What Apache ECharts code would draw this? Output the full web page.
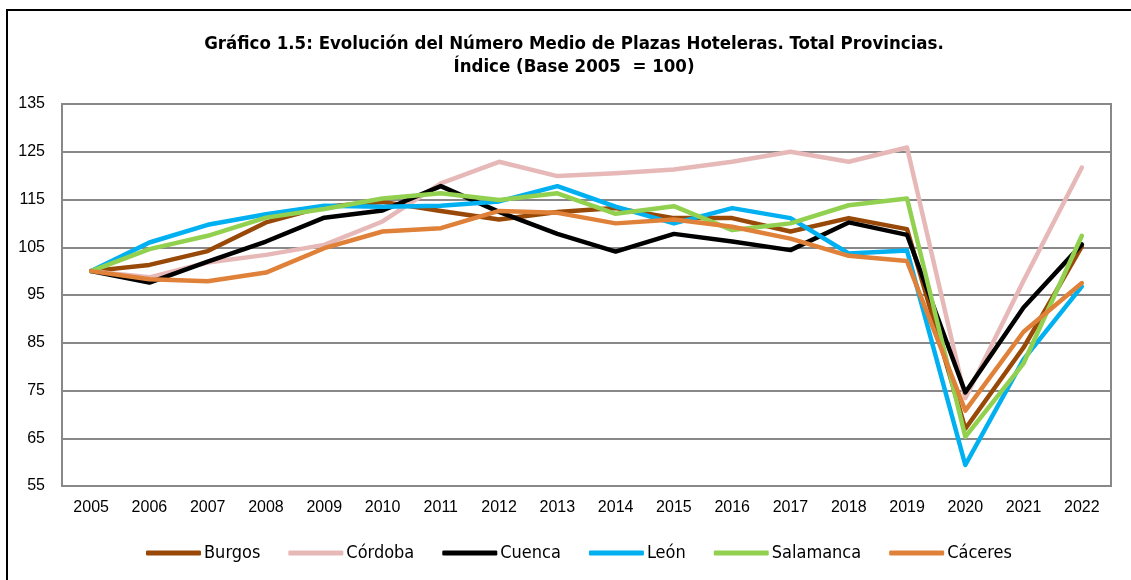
<!DOCTYPE html>
<html>
<head>
<meta charset="utf-8">
<script src="https://cdn.jsdelivr.net/npm/echarts@6/dist/echarts.min.js"></script>
<style>
  html, body { margin: 0; padding: 0; background: #fff; }
  #charts { width: 1131px; height: 580px; }
</style>
</head>
<body>
<div id="charts"></div>
<script>
// datos
var years = ['2005','2006','2007','2008','2009','2010','2011','2012','2013','2014','2015','2016','2017','2018','2019','2020','2021','2022'];
var burgos    = [100, 101.3, 104.2, 110.2, 113.5, 114.5, 112.6, 110.8, 112.4, 113.2, 111.1, 111.1, 108.3, 111.1, 108.8, 67.0, 84.0, 105.2];
var cordoba   = [100, 98.7, 101.8, 103.4, 105.5, 110.4, 118.4, 122.9, 119.9, 120.5, 121.3, 122.9, 125.0, 122.9, 125.9, 73.4, 98.0, 121.7];
var cuenca    = [100, 97.6, 102.0, 106.2, 111.2, 112.7, 117.8, 112.4, 107.8, 104.1, 107.8, 106.2, 104.4, 110.2, 107.6, 74.6, 92.4, 105.6];
var leon      = [100, 106.0, 109.7, 111.9, 113.7, 113.5, 113.7, 114.6, 117.8, 113.5, 110.0, 113.2, 111.1, 103.7, 104.3, 59.4, 81.5, 96.8];
var salamanca = [100, 104.6, 107.4, 111.2, 113.0, 115.2, 116.3, 114.9, 116.3, 112.0, 113.6, 108.6, 110.0, 113.8, 115.2, 65.3, 80.7, 107.4];
var caceres   = [100, 98.3, 97.9, 99.7, 104.8, 108.3, 109.0, 112.6, 112.2, 110.0, 110.8, 109.3, 106.8, 103.2, 102.1, 70.8, 87.3, 97.5];

var names  = ['Burgos', 'Córdoba', 'Cuenca', 'León', 'Salamanca', 'Cáceres'];
var values = [burgos, cordoba, cuenca, leon, salamanca, caceres];
var colors = ['#984807', '#E6B9B8', '#000000', '#00B0F0', '#92D050', '#E0813A'];

var chart = echarts.init(document.getElementById('charts'));

var series = [];
for (var i = 0; i < names.length; i++) {
    series.push({
        name: names[i],
        type: 'line',
        data: values[i],
        symbol: 'none',
        lineStyle: { width: 4.5, color: colors[i], cap: 'round', join: 'round' },
        itemStyle: { color: colors[i] },
        emphasis: { disabled: true }
    });
}

var labelFont = 'Liberation Sans, Arial, sans-serif';

var option = {
    animation: false,
    graphic: [{
        type: 'rect',
        shape: { x: 7, y: 10, width: 1200, height: 700 },
        style: { fill: 'none', stroke: '#000', lineWidth: 2 },
        silent: true
    }, {
        type: 'text',
        x: 574,
        y: 33,
        style: {
            text: 'Gráfico 1.5: Evolución del Número Medio de Plazas Hoteleras. Total Provincias.\nÍndice (Base 2005  = 100)',
            align: 'center',
            verticalAlign: 'top',
            font: 'bold 18.5px "DejaVu Sans Condensed"',
            lineHeight: 23,
            fill: '#000'
        },
        silent: true
    }],
    legend: {
        data: names,
        bottom: 13,
        left: 141,
        icon: 'roundRect',
        itemWidth: 55,
        itemHeight: 5,
        itemGap: 28,
        textStyle: { fontFamily: 'DejaVu Sans Condensed', fontSize: 18, color: '#000', padding: [0, 0, 0, -2] }
    },
    grid: {
        left: 62, right: 20, top: 104, bottom: 94,
        show: true, borderColor: '#888', borderWidth: 2
    },
    xAxis: {
        type: 'category',
        data: years,
        boundaryGap: true,
        axisTick: { show: false },
        axisLine: { lineStyle: { color: '#888', width: 2 } },
        axisLabel: { fontFamily: labelFont, fontSize: 16, color: '#000', margin: 14 }
    },
    yAxis: {
        type: 'value',
        min: 55,
        max: 135,
        interval: 10,
        axisLine: { show: true, lineStyle: { color: '#888', width: 2 } },
        axisTick: { show: false },
        axisLabel: { fontFamily: labelFont, fontSize: 16, color: '#000', margin: 17 },
        splitLine: { lineStyle: { color: '#888', width: 2 } }
    },
    series: series
};
chart.setOption(option);
</script>
</body>
</html>
